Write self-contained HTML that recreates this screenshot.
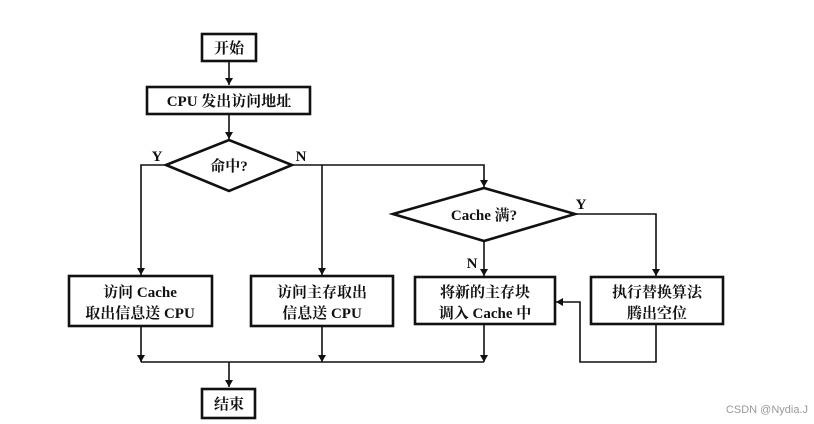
<!DOCTYPE html>
<html><head><meta charset="utf-8"><style>
html,body{margin:0;padding:0;background:#fff;width:814px;height:424px;overflow:hidden}
text{font-family:"Liberation Serif","Noto Serif CJK SC",serif;font-weight:bold;fill:#111}
</style></head><body>
<svg width="814" height="424" viewBox="0 0 814 424" xmlns="http://www.w3.org/2000/svg">
<defs><marker id="a" markerWidth="8" markerHeight="10" refX="7" refY="5" orient="auto" markerUnits="userSpaceOnUse"><path d="M0,1 L7,5 L0,9 Z" fill="#111"/></marker></defs>
<g stroke="#111" stroke-width="1.6" fill="none">
<line x1="229" y1="62" x2="229" y2="85" marker-end="url(#a)"/>
<line x1="229" y1="115" x2="229" y2="139" marker-end="url(#a)"/>
<polyline points="166,165 141,165 141,275" marker-end="url(#a)"/>
<polyline points="292,165 484,165 484,187" marker-end="url(#a)"/>
<line x1="322" y1="165" x2="322" y2="275" marker-end="url(#a)"/>
<line x1="484" y1="241" x2="484" y2="276" marker-end="url(#a)"/>
<polyline points="575,214 656,214 656,276" marker-end="url(#a)"/>
<polyline points="656,324 656,362 580,362 580,302 556,302" marker-end="url(#a)"/>
<line x1="141" y1="327" x2="141" y2="362" marker-end="url(#a)"/>
<line x1="322" y1="327" x2="322" y2="362" marker-end="url(#a)"/>
<line x1="484" y1="325" x2="484" y2="362" marker-end="url(#a)"/>
<line x1="141" y1="362" x2="484" y2="362"/>
<line x1="229" y1="362" x2="229" y2="387" marker-end="url(#a)"/>
</g>
<g stroke="#111" stroke-width="2.6" fill="#fff">
<rect x="202" y="34" width="54" height="27"/>
<rect x="147" y="87" width="163" height="27"/>
<polygon points="166,165 229,140 292,165 229,191"/>
<polygon points="393,214 484,188 575,214 484,241"/>
<rect x="69" y="276" width="143" height="50"/>
<rect x="251" y="276" width="142" height="50"/>
<rect x="415" y="277" width="140" height="47"/>
<rect x="591" y="277" width="132" height="47"/>
<rect x="202" y="389" width="53" height="29"/>
</g>
<g font-size="15" text-anchor="middle">
<text x="229" y="53">开始</text>
<text x="229" y="106">CPU 发出访问地址</text>
<text x="229" y="171">命中?</text>
<text x="484" y="220">Cache 满?</text>
<text x="140" y="297">访问 Cache</text>
<text x="140" y="318">取出信息送 CPU</text>
<text x="322" y="297">访问主存取出</text>
<text x="322" y="318">信息送 CPU</text>
<text x="485" y="297">将新的主存块</text>
<text x="485" y="318">调入 Cache 中</text>
<text x="657" y="297">执行替换算法</text>
<text x="657" y="318">腾出空位</text>
<text x="229" y="409">结束</text>
<text x="157" y="161">Y</text>
<text x="301" y="161">N</text>
<text x="581" y="209">Y</text>
<text x="472" y="268">N</text>
</g>
<text x="808" y="413" font-size="11" text-anchor="end" style="font-family:'Liberation Sans',sans-serif;font-weight:normal;fill:#999">CSDN @Nydia.J</text>
</svg>
</body></html>
